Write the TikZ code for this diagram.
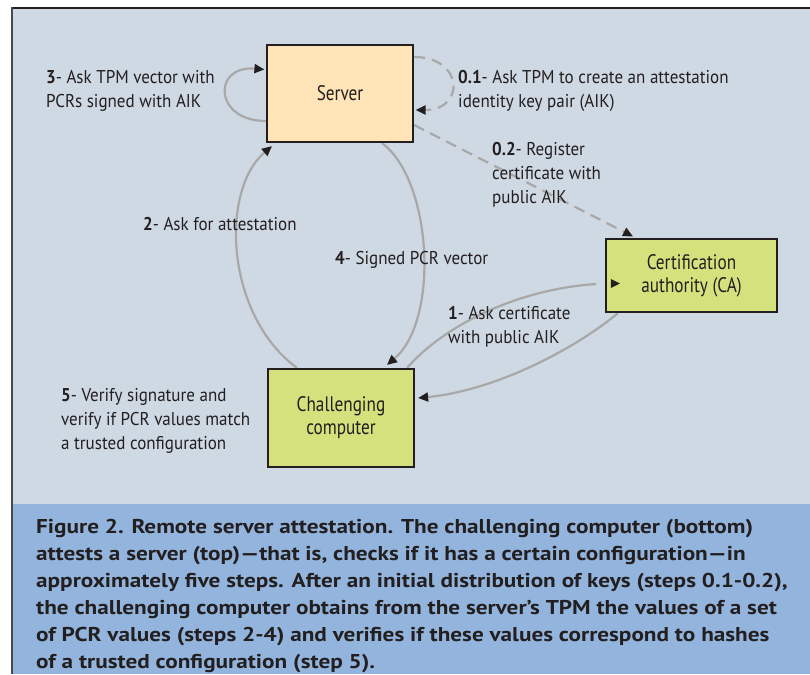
\documentclass[tikz,border=0pt]{standalone}
\usepackage{fontspec}
\setmainfont{PT Sans}
\newfontfamily\lblfont{PT Sans}[FakeStretch=0.92]
\newfontfamily\boxfont{PT Sans}[FakeStretch=0.82]
\newfontfamily\capfont{PT Sans}[FakeStretch=1.16]
\usetikzlibrary{calc,arrows.meta}

\definecolor{panel}{HTML}{CFD9E3}
\definecolor{capband}{HTML}{93B5DD}
\definecolor{ink}{HTML}{231F20}
\definecolor{frameline}{HTML}{4A4A4A}
\definecolor{wire}{HTML}{A8A8A8}
\definecolor{serverfill}{HTML}{FEE4B6}
\definecolor{cafill}{HTML}{D5E17D}

\pgfdeclarelayer{paper}
\pgfdeclarelayer{wires}
\pgfsetlayers{paper,wires,main}

\tikzset{
  box/.style={draw=ink, line width=2.2pt, inner sep=0pt, align=center, text=ink,
    font=\boxfont\fontsize{21}{23}\selectfont},
  % multi-line labels are placed by the baseline of their last line
  lbl/.style={anchor=base west, align=left, inner sep=0pt, text=ink,
    font=\lblfont\fontsize{18.5}{23.7}\selectfont},
  conn/.style={draw=wire, line width=2.2pt, -{Triangle[length=10pt,width=9pt,color=ink]}},
  plainconn/.style={draw=wire, line width=2.2pt},
  dashconn/.style={conn, dash pattern=on 11pt off 7pt},
}

\begin{document}
\begin{tikzpicture}[x=1pt,y=-1pt]
  \useasboundingbox (0,0) rectangle (810,674);

  % panel, caption band and frame
  \begin{pgfonlayer}{paper}
    \fill[panel] (12.5,9.5) rectangle (810,504);
    \fill[capband] (12.5,504) rectangle (810,674);
    \fill[ink] (11,7) rectangle (810,9.5);
    \fill[frameline] (11,7) rectangle (12.5,674);
  \end{pgfonlayer}

  % boxes
  \node[box, fill=serverfill, minimum width=146pt, minimum height=97pt] (srv) at (340,93.5) {Server};
  \node[box, fill=cafill, minimum width=171pt, minimum height=73pt] (ca) at (691.5,275.5) {Certification\\authority (CA)};
  \node[box, fill=cafill, minimum width=146pt, minimum height=98pt] (comp) at (341,418) {Challenging\\computer};

  \begin{pgfonlayer}{wires}
    % 3: self loop on the server (left)
    \draw[conn] ($(srv.west)+(0,27.5)$) to[out=180,in=175,looseness=2.6] ($(srv.west)+(-1.5,-24)$);
    % 0.1: self loop on the server (right), dashed
    \draw[dashconn] ($(srv.east)+(0,-36.5)$) to[out=0,in=0,looseness=2.4] ($(srv.east)+(1.5,16.5)$);
    % 0.2: server registers its AIK with the CA
    \draw[dashconn] ($(srv.east)+(0,31.5)$) -- ($(ca.north)+(-58.5,-1.5)$);
    % 2: challenger asks the server for attestation
    \draw[conn] ($(comp.north)+(-44,0)$) .. controls (225,315) and (220,190) .. ($(srv.south)+(-68,3)$);
    % 4: server returns the signed PCR vector
    \draw[conn] ($(srv.south)+(42,0)$) .. controls (432,180) and (440,320) .. ($(comp.north)+(46,-3)$);
    % 1: challenger asks the CA for the certificate
    \draw[plainconn] ($(comp.north)+(66,0)$) .. controls (440,330) and (510,290) .. ($(ca.west)+(-9,8.5)$);
    % CA answers the challenger
    \draw[conn] ($(ca.south west)+(13,0)$) .. controls (580,345) and (500,390) .. ($(comp.east)+(3,-20)$);
  \end{pgfonlayer}

  % tip of step 1, drawn inside the CA box
  \fill[ink] ($(ca.west)+(6,3.5)$) -- ($(ca.west)+(15,8)$) -- ($(ca.west)+(6,12.5)$) -- cycle;

  % step labels
  \node[lbl] (l3) at (46,107.5) {\textbf{3}- Ask TPM vector with\\PCRs signed with AIK};
  \node[lbl] (l01) at (458,107) {\textbf{0.1}- Ask TPM to create an attestation\\identity key pair (AIK)};
  \node[lbl] (l02) at (492,203) {\textbf{0.2}- Register\\certificate with\\public AIK};
  \node[lbl] (l2) at (143,230) {\textbf{2}- Ask for attestation};
  \node[lbl] (l4) at (335,264) {\textbf{4}- Signed PCR vector};
  \node[lbl] (l1) at (448,343) {\textbf{1}- Ask certificate\\with public AIK};
  \node[lbl] (l5) at (61,449) {\textbf{5}- Verify signature and\\verify if PCR values match\\a trusted configuration};

  % caption
  \node[anchor=base west, align=left, inner sep=0pt, text=ink,
        font=\capfont\bfseries\fontsize{20}{27}\selectfont] (cap) at (36,668)
    {Figure 2. Remote server attestation. The challenging computer (bottom)\\
     attests a server (top)\textemdash that is, checks if it has a certain configuration\textemdash in\\
     approximately five steps. After an initial distribution of keys (steps 0.1-0.2),\\
     the challenging computer obtains from the server’s TPM the values of a set\\
     of PCR values (steps 2-4) and verifies if these values correspond to hashes\\
     of a trusted configuration (step 5).};
\end{tikzpicture}
\end{document}
